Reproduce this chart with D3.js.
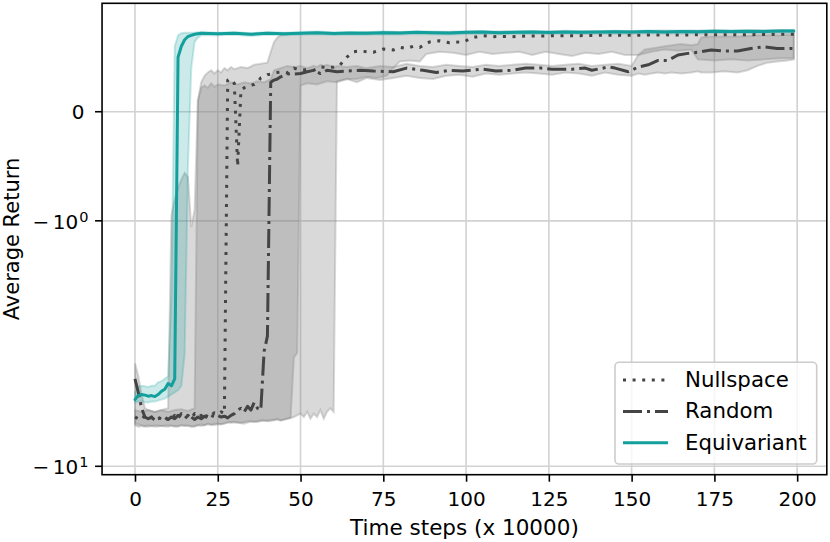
<!DOCTYPE html>
<html><head><meta charset="utf-8">
<script src="https://cdn.jsdelivr.net/npm/d3@7"></script>
<style>body{margin:0;background:#fff}svg{display:block}text{font-family:"DejaVu Sans",sans-serif;fill:#000}</style>
</head><body><svg id="c" width="830" height="542"></svg>
<script>
// ---------------- data ----------------
const xTicks = [0,25,50,75,100,125,150,175,200];
const yTicks = [0,-1,-10];
const seriesNames = ["Nullspace","Random","Equivariant"];

const eqX = [0,1,2,3,4,5,6,7,8,9,10,11,12,13,14,15,16,17,18,19,20,25,30,35,40,45,50,55,60,65,70,75,80,85,90,95,100,105,110,115,120,125,130,135,140,145,150,155,160,165,170,175,180,185,190,195,199];
const eqMean = [-5.35,-5.15,-5.1,-5.13,-5.18,-5.15,-5.2,-5.1,-4.95,-4.85,-4.6,-4.7,-4.4,0.5,0.6,0.66,0.69,0.70,0.71,0.715,0.72,
  0.715,0.72,0.71,0.72,0.715,0.72,0.725,0.718,0.722,0.72,0.725,0.722,0.728,0.725,0.722,0.728,0.73,0.725,0.728,0.73,0.727,0.732,0.728,0.73,0.733,0.73,0.735,0.732,0.735,0.733,0.737,0.735,0.738,0.736,0.74,0.74];
const eqLo = [-5.5,-5.45,-5.45,-5.48,-5.5,-5.45,-5.45,-5.4,-5.35,-5.3,-5.2,-5.1,-5.0,-4.9,-4.7,-3.5,-0.5,0.4,0.64,0.68,0.70,
  0.70,0.705,0.695,0.705,0.70,0.705,0.71,0.703,0.707,0.705,0.71,0.707,0.713,0.71,0.707,0.713,0.715,0.71,0.713,0.715,0.712,0.717,0.713,0.715,0.718,0.715,0.72,0.717,0.72,0.718,0.722,0.72,0.723,0.721,0.725,0.725];
const eqHi = [-5.0,-4.75,-4.7,-4.72,-4.75,-4.7,-4.7,-4.55,-4.5,-4.4,-4.3,-2.0,0.6,0.7,0.72,0.725,0.725,0.725,0.725,0.728,0.73,
  0.725,0.73,0.72,0.73,0.725,0.73,0.735,0.728,0.732,0.73,0.735,0.732,0.738,0.735,0.732,0.738,0.74,0.735,0.738,0.74,0.737,0.742,0.738,0.74,0.743,0.74,0.745,0.742,0.745,0.743,0.747,0.745,0.748,0.746,0.75,0.75];

const nmX = [0,1,2,3,4,5,6,7,8,9,10,11,12,13,14,15,16,17,18,19,20,21,22,23,24,25,26,27,28,29,30,31,
  32,33,34,35,36,37,38,39,40,41,42,43,44,45,46,47,48,50,52,54,56,58,60,62,63,64,66,68,70,72,75,78,80,82,84,86,89,92,95,97,99,102,105,108,111,114,118,122,127,132,136,140,145,150,155,160,165,170,175,180,185,190,195,199];
const nmY = [-6.3,-6.4,-6.2,-6.35,-6.5,-6.3,-6.45,-6.4,-6.3,-6.5,-6.3,-6.4,-6.2,-6.35,-6.1,-6.3,-6.2,-6.4,-6.1,-6.3,-6.2,-6.45,-6.1,-6.2,-6.05,-6.15,-6.0,-6.1,0.29,0.30,0.26,-0.5,
  0.2,0.22,0.23,0.245,0.25,0.27,0.31,0.32,0.34,0.345,0.355,0.36,0.365,0.36,0.355,0.38,0.40,0.38,0.385,0.38,0.41,0.405,0.41,0.43,0.47,0.5,0.55,0.557,0.55,0.545,0.575,0.566,0.59,0.58,0.6,0.59,0.64,0.65,0.633,0.64,0.636,0.68,0.697,0.688,0.69,0.688,0.694,0.694,0.697,0.697,0.698,0.70,0.702,0.70,0.703,0.705,0.703,0.706,0.705,0.707,0.706,0.708,0.71,0.71];

const nbX = [0,2,4,6,8,10,11,12,13,14,15,16,17,18,19,20,21,22,23,24,25,26,27,28,29,30,32,34,36,38,40,41,42,43,44,46,47,48,49,50,52,55,58,61,64,67,70,73,76,78,80,83,86,88,92,96,100,104,108,112,116,120,124,128,132,136,140,144,148,152,156,160,164,168,170,175,180,185,190,195,199];
const nbHi = [-5.9,-6.0,-5.9,-6.0,-5.9,-5.8,-0.95,-0.8,-0.7,-0.62,-0.56,-0.6,-1.06,-0.9,0.1,0.27,0.33,0.36,0.38,0.35,0.38,0.36,0.40,0.38,0.41,0.39,0.41,0.40,0.43,0.44,0.45,0.55,0.64,0.68,0.70,0.71,0.715,0.72,0.72,0.72,0.725,0.72,0.725,0.72,0.725,0.72,0.728,0.725,0.728,0.73,0.728,0.73,0.728,0.732,0.73,0.733,0.73,0.735,0.732,0.735,0.733,0.736,0.734,0.737,0.735,0.738,0.736,0.738,0.74,0.738,0.74,0.742,0.74,0.743,0.742,0.744,0.743,0.745,0.744,0.746,0.746];
const nbLo = [-6.7,-6.8,-6.9,-6.8,-6.85,-6.9,-6.8,-6.85,-6.9,-6.8,-6.85,-6.8,-6.9,-6.85,-6.8,-6.75,-6.8,-6.7,-6.75,-6.8,-6.7,-6.75,-6.7,-6.6,-6.65,-6.6,-6.65,-6.55,-6.6,-6.5,-6.55,-6.45,-6.5,-6.4,-6.5,-6.4,-6.35,-3.6,-3.45,0.24,0.26,0.25,0.28,0.27,0.30,0.30,0.32,0.31,0.33,0.40,0.46,0.47,0.46,0.53,0.55,0.54,0.52,0.55,0.53,0.54,0.55,0.52,0.55,0.53,0.51,0.54,0.53,0.55,0.52,0.52,0.55,0.57,0.56,0.57,0.48,0.47,0.48,0.47,0.48,0.49,0.49];

const rmX = [0,1,2,3,4,5,6,7,8,9,10,11,12,13,14,15,16,17,18,19,20,21,22,23,24,25,26,27,28,29,30,31,32,33,34,35,36,37,38,39,40,41,
  42,43,44,45,46,47,48,50,52,54,56,58,61,65,68,72,78,82,87,91,95,99,105,109,114,118,122,126,132,136,138,143,145,149,152,155,158,161,164,167,170,174,178,182,186,190,194,199];
const rmY = [-4.4,-5.0,-5.8,-6.3,-6.4,-6.3,-6.5,-6.35,-6.4,-6.3,-6.45,-6.3,-6.4,-6.2,-6.35,-6.4,-6.2,-6.3,-6.45,-6.3,-6.4,-6.25,-6.35,-6.2,-6.3,-6.2,-6.3,-6.25,-6.35,-6.2,-6.1,-5.9,-5.8,-6.0,-5.7,-5.9,-5.5,-5.8,-5.9,-3.4,-2.95,0.27,
  0.29,0.30,0.32,0.33,0.345,0.35,0.345,0.35,0.367,0.38,0.35,0.38,0.367,0.375,0.38,0.373,0.367,0.40,0.38,0.36,0.38,0.373,0.39,0.373,0.38,0.40,0.403,0.39,0.39,0.40,0.38,0.41,0.40,0.367,0.41,0.43,0.47,0.47,0.52,0.535,0.545,0.566,0.557,0.557,0.58,0.596,0.58,0.58];

const rbX = [0,1,2,3,4,6,8,10,12,14,16,18,19,20,21,22,23,24,25,27,29,31,33,35,37,39,41,42,44,46,48,50,51,52,53,54,55,56,57,58,59,60,61,64,67,70,74,78,82,86,90,94,98,102,106,110,114,118,122,126,130,134,138,142,146,150,152,154,156,158,160,162,165,168,170,171,174,178,182,185,188,191,194,197,199];
const rbHi = [-3.8,-4.3,-5.1,-5.8,-5.9,-6.0,-5.9,-6.0,-5.9,-5.85,-5.95,-5.8,0.1,0.22,0.24,0.22,0.26,0.23,0.25,0.24,0.27,0.25,0.27,0.26,0.28,0.27,0.30,0.38,0.40,0.42,0.41,0.42,0.41,0.40,0.41,0.42,0.41,0.43,0.42,0.43,0.42,0.41,0.42,0.41,0.42,0.40,0.42,0.41,0.44,0.42,0.41,0.43,0.42,0.41,0.43,0.42,0.43,0.44,0.43,0.42,0.43,0.44,0.42,0.43,0.44,0.42,0.52,0.57,0.58,0.59,0.60,0.61,0.62,0.61,0.62,0.68,0.69,0.69,0.69,0.695,0.70,0.70,0.70,0.705,0.705];
const rbLo = [-6.8,-6.9,-6.85,-6.9,-6.8,-6.9,-6.85,-6.8,-6.9,-6.8,-6.85,-6.9,-6.8,-6.85,-6.8,-6.75,-6.8,-6.7,-6.75,-6.7,-6.6,-6.65,-6.7,-6.55,-6.6,-6.5,-6.55,-6.45,-6.5,-6.4,-6.3,-6.1,-6.3,-6.0,-6.4,-6.1,-6.3,-5.9,-6.4,-6.0,-5.8,-6.0,0.28,0.30,0.27,0.31,0.29,0.31,0.33,0.31,0.30,0.33,0.34,0.32,0.35,0.34,0.35,0.36,0.35,0.34,0.36,0.35,0.33,0.36,0.34,0.33,0.35,0.34,0.35,0.36,0.35,0.36,0.35,0.36,0.37,0.36,0.36,0.37,0.36,0.38,0.42,0.45,0.46,0.47,0.48];

// ---------------- chart ----------------
const svg = d3.select("#c");
const M = {l:102.05, t:3.3, r:826.8, b:474.7};
const LIN = 0.4/(1-1/10);                       // symlog, linthresh 1, linscale 0.4
const symT = v => { const a=Math.abs(v); return Math.sign(v)*(a<=1 ? a*LIN : LIN+Math.log10(a)); };
const x = d3.scaleLinear().domain([-9.95, 208.95]).range([M.l, M.r]);
const yT = d3.scaleLinear().domain([symT(-10.82), symT(0.994)]).range([M.b, M.t]);
const y = v => yT(symT(v));

const teal = "#139f9c", dark = "#444444", band = "#808080";

svg.append("defs").append("clipPath").attr("id","clip")
  .append("rect").attr("x",M.l).attr("y",M.t).attr("width",M.r-M.l).attr("height",M.b-M.t);

// grid
const grid = svg.append("g").attr("stroke","#d2d2d2").attr("stroke-width",1.6);
grid.selectAll("line.gx").data(xTicks).join("line")
  .attr("x1",d=>x(d)).attr("x2",d=>x(d)).attr("y1",M.t).attr("y2",M.b);
grid.selectAll("line.gy").data(yTicks).join("line")
  .attr("y1",d=>y(d)).attr("y2",d=>y(d)).attr("x1",M.l).attr("x2",M.r);

const plot = svg.append("g").attr("clip-path","url(#clip)");
const area = d3.area().x(d=>x(d[0])).y0(d=>y(d[1])).y1(d=>y(d[2]));
const line = d3.line().x(d=>x(d[0])).y(d=>y(d[1]));

const bands = [
  {X:nbX, lo:nbLo, hi:nbHi, c:band, a:0.3},
  {X:rbX, lo:rbLo, hi:rbHi, c:band, a:0.3},
  {X:eqX, lo:eqLo, hi:eqHi, c:teal, a:0.22}
];
bands.forEach(b=>{
  plot.append("path").datum(b.X.map((s,i)=>[s,b.lo[i],b.hi[i]]))
    .attr("d",area).attr("fill",b.c).attr("fill-opacity",b.a)
    .attr("stroke",b.c).attr("stroke-opacity",b.a).attr("stroke-width",2);
});

const lines = [
  {X:nmX, Y:nmY, c:dark, dash:"3,6.6", cap:"butt"},
  {X:rmX, Y:rmY, c:dark, dash:"19,5,3,5", cap:"butt"},
  {X:eqX, Y:eqMean, c:teal, dash:null, cap:"round"}
];
lines.forEach(l=>{
  plot.append("path").datum(l.X.map((s,i)=>[s,l.Y[i]]))
    .attr("d",line).attr("fill","none").attr("stroke",l.c).attr("stroke-width",3)
    .attr("stroke-dasharray",l.dash).attr("stroke-linecap",l.cap).attr("stroke-linejoin","round");
});

// frame
svg.append("rect").attr("x",M.l).attr("y",M.t).attr("width",M.r-M.l).attr("height",M.b-M.t)
  .attr("fill","none").attr("stroke","#000").attr("stroke-width",1.6);

// x axis
const gx = svg.append("g").attr("transform",`translate(0,${M.b})`)
  .call(d3.axisBottom(x).tickValues(xTicks).tickSize(7).tickFormat(d3.format("d")));
gx.select(".domain").remove();
gx.selectAll(".tick line").attr("stroke","#000").attr("stroke-width",1.6);
gx.selectAll(".tick text").attr("y",31.8).attr("dy",null).attr("font-size",20)
  .attr("font-family","DejaVu Sans").attr("fill","#000");

// y axis (symlog ticks)
const gy = svg.append("g");
gy.selectAll("line").data(yTicks).join("line")
  .attr("x1",M.l-7).attr("x2",M.l).attr("y1",d=>y(d)).attr("y2",d=>y(d))
  .attr("stroke","#000").attr("stroke-width",1.6);
yTicks.forEach(v=>{
  const t = gy.append("text").attr("text-anchor","end").attr("font-size",20);
  if (v===0) { t.attr("x",84.5).attr("y",y(v)+7.4).text("0"); }
  else {
    const e = Math.round(Math.log10(-v));
    t.attr("x",88.5).attr("y",y(v)+8);
    t.append("tspan").text("\u2212");
    t.append("tspan").attr("dx",3.5).text("10");
    t.append("tspan").attr("dx",1).attr("dy",-7).attr("font-size",14.5).text(String(e));
  }
});

// axis labels
svg.append("text").attr("x",(M.l+M.r)/2).attr("y",535).attr("text-anchor","middle")
  .attr("font-size",21.5).text("Time steps (x 10000)");
svg.append("text").attr("transform",`translate(19,${(M.t+M.b)/2}) rotate(-90)`)
  .attr("text-anchor","middle").attr("font-size",21).text("Average Return");

// legend
const lg = svg.append("g");
lg.append("rect").attr("x",615).attr("y",362.3).attr("width",201.7).attr("height",101.7).attr("rx",4)
  .attr("fill","#fff").attr("fill-opacity",0.8).attr("stroke","#cccccc").attr("stroke-width",1.6);
const rowY = [380, 411.5, 442.8];
lines.forEach((l,i)=>{
  lg.append("line").attr("x1",623).attr("x2",668).attr("y1",rowY[i]).attr("y2",rowY[i])
    .attr("stroke",l.c).attr("stroke-width",3).attr("stroke-dasharray",l.dash).attr("stroke-linecap","butt");
  lg.append("text").attr("x",685).attr("y",rowY[i]+6.8).attr("font-size",21.3).text(seriesNames[i]);
});
</script></body></html>
